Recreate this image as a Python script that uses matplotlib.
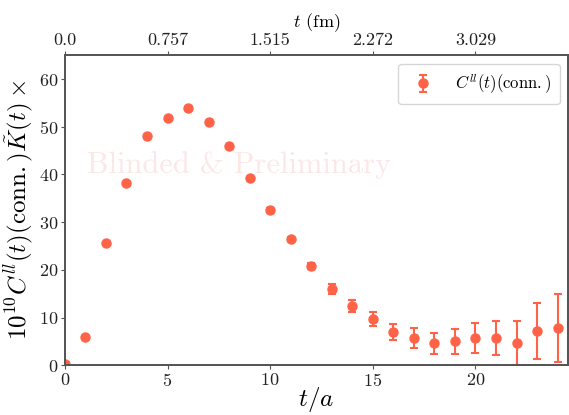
import numpy as np
import matplotlib
matplotlib.use("Agg")
import matplotlib.pyplot as plt

plt.rcParams["font.family"] = "serif"
plt.rcParams["font.serif"] = ["cmr10"]
plt.rcParams["mathtext.fontset"] = "cm"
plt.rcParams["axes.formatter.use_mathtext"] = True

# datos
t = np.arange(0, 25)
corr = [0.2, 5.9, 25.6, 38.2, 48.0, 51.8, 53.9, 51.0, 45.9, 39.2, 32.5, 26.4,
        20.8, 16.0, 12.4, 9.7, 6.9, 5.7, 4.6, 5.0, 5.7, 5.7, 4.6, 7.2, 7.8]
err = [0.05, 0.1, 0.15, 0.2, 0.2, 0.25, 0.3, 0.3, 0.3, 0.35, 0.4, 0.45,
       0.6, 1.1, 1.3, 1.5, 1.7, 2.0, 2.2, 2.6, 3.1, 3.6, 4.6, 5.9, 7.2]
top_ticks = [0, 5, 10, 15, 20]
top_labels = ["0.0", "0.757", "1.515", "2.272", "3.029"]

color = "tomato"

fig = plt.figure(figsize=(5.69, 4.15), dpi=100)
ax = fig.add_axes([0.114, 0.12, 0.884, 0.747])

ax.errorbar(t, corr, yerr=err, fmt="o", color=color, ms=6.5, capsize=3,
            elinewidth=1.5, capthick=1.5, label=r"$C^{ll}(t)(\mathrm{conn.})$")

ax.text(8.5, 42, "Blinded & Preliminary", fontsize=22, color="#e8474b", alpha=0.13,
        ha="center", va="center")

ax.set_xlim(0, 24.5)
ax.set_ylim(0, 65)
ax.set_xlabel(r"$t/a$", fontsize=18, labelpad=-3)
ax.set_ylabel(r"$10^{10}C^{ll}(t)(\mathrm{conn.})\tilde{K}(t)\times$", fontsize=18, labelpad=2)
ax.tick_params(labelsize=13, pad=2, length=3)

ax2 = ax.twiny()
ax2.set_xlim(ax.get_xlim())
ax2.set_xticks(top_ticks)
ax2.set_xticklabels(top_labels)
ax2.tick_params(labelsize=13, pad=2, length=3)
ax2.set_xlabel(r"$t$ (fm)", fontsize=13, labelpad=4)

for a in (ax, ax2):
    for s in a.spines.values():
        s.set_color("#555555")
        s.set_linewidth(1.3)
    a.tick_params(color="#555555", colors="#222222")

ax.legend(loc="upper right", fontsize=12, handletextpad=0.9, borderpad=0.5)

plt.savefig("out.png", dpi=100)
